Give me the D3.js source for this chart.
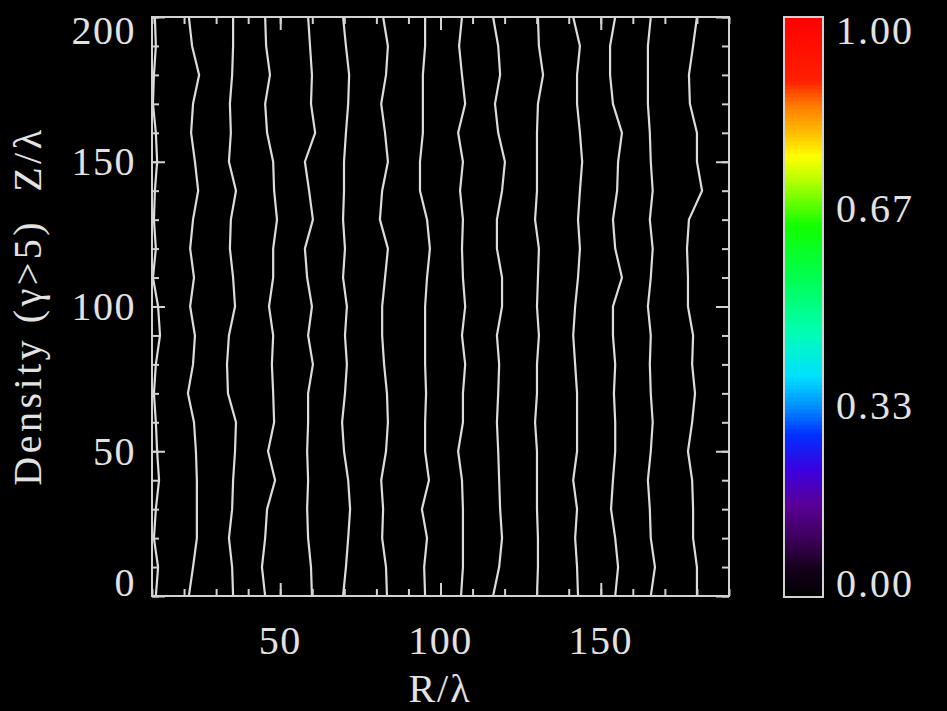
<!DOCTYPE html>
<html>
<head>
<meta charset="utf-8">
<script src="https://cdn.jsdelivr.net/npm/d3@7"></script>
<style>
  html, body { margin: 0; padding: 0; background: #000; }
  svg { display: block; }
  text { font-family: "Liberation Serif", "DejaVu Serif", serif; fill: #e2e2e2; }
</style>
</head>
<body>
<svg id="chart"></svg>
<script>
// Z levels (Z/lambda) at which each contour line was read, top to bottom
const zLevels = [200, 190, 180, 170, 160, 150, 140, 130, 120, 110, 100, 90, 80, 70, 60, 50, 40, 30, 20, 10, 0];

// R/lambda position of each contour line at those levels
const lineR = [
  [10.9, 11.2, 10.6, 10.3, 11.2, 11.6, 10.9, 10.6, 11.2, 10.3, 11.9, 12.5, 11.2, 10.6, 11.2, 11.6, 12.2, 11.2, 10.6, 11.9, 11.2],
  [21.5, 22.5, 24.7, 22.8, 22.2, 23.4, 24.4, 22.8, 21.9, 23.1, 21.9, 23.4, 22.8, 21.2, 23.1, 23.7, 24.0, 24.0, 24.0, 22.8, 21.5],
  [35.3, 35.3, 35.0, 34.3, 34.6, 34.0, 36.2, 34.6, 34.3, 35.3, 35.9, 34.0, 33.4, 33.7, 36.2, 35.9, 35.3, 35.0, 34.0, 35.0, 35.3],
  [45.3, 45.6, 46.8, 45.3, 45.9, 47.8, 48.1, 49.0, 47.8, 47.8, 46.5, 47.8, 47.4, 47.8, 48.1, 46.2, 48.4, 45.9, 45.3, 44.3, 45.3],
  [58.7, 59.3, 59.9, 59.6, 60.9, 57.7, 59.0, 60.2, 57.7, 58.4, 59.9, 58.7, 60.2, 58.7, 58.7, 58.4, 58.7, 58.4, 58.7, 59.6, 59.9],
  [69.6, 70.5, 71.5, 71.2, 70.5, 69.9, 69.9, 69.6, 70.2, 69.6, 70.8, 70.2, 70.8, 70.2, 69.3, 69.9, 71.2, 71.8, 71.2, 70.5, 69.6],
  [82.1, 83.6, 83.0, 81.5, 82.7, 83.6, 81.8, 81.1, 83.6, 82.7, 81.8, 81.8, 82.4, 83.3, 83.6, 83.0, 81.5, 82.1, 81.8, 83.0, 83.3],
  [95.2, 95.2, 94.5, 94.5, 94.5, 93.6, 93.6, 95.8, 96.7, 95.8, 95.2, 95.2, 95.2, 95.5, 95.2, 95.2, 96.4, 94.2, 95.8, 94.9, 95.2],
  [106.7, 105.8, 106.7, 107.7, 105.5, 107.0, 106.1, 107.0, 106.7, 107.0, 107.7, 106.7, 107.7, 107.0, 107.0, 105.5, 106.7, 107.0, 107.0, 107.0, 106.4],
  [116.4, 118.0, 118.6, 117.0, 118.0, 120.1, 119.2, 117.6, 117.6, 119.2, 119.2, 117.6, 118.3, 118.0, 117.6, 118.0, 118.3, 118.6, 119.2, 118.3, 116.4],
  [130.4, 130.7, 132.0, 130.4, 130.1, 130.1, 130.1, 129.5, 130.7, 130.4, 130.1, 130.7, 130.1, 130.1, 129.5, 130.1, 130.1, 130.1, 130.4, 130.4, 130.1],
  [141.4, 143.5, 142.6, 142.6, 143.5, 144.2, 143.5, 142.9, 143.5, 142.9, 142.0, 141.4, 142.0, 142.6, 142.6, 142.6, 141.4, 142.6, 142.0, 142.6, 142.9],
  [154.5, 152.9, 152.9, 153.8, 156.6, 155.4, 155.1, 153.8, 154.5, 156.6, 153.8, 153.8, 154.5, 154.1, 154.5, 154.5, 153.8, 153.2, 154.5, 155.4, 154.5],
  [165.6, 164.7, 164.7, 164.7, 165.3, 165.6, 166.2, 165.3, 166.2, 165.6, 164.7, 165.6, 165.3, 165.6, 166.2, 165.6, 164.7, 165.3, 165.6, 166.9, 165.6],
  [180.0, 178.8, 177.5, 177.8, 180.0, 180.0, 181.6, 177.5, 176.9, 177.2, 177.2, 178.8, 178.5, 179.4, 178.5, 177.2, 178.5, 178.8, 178.8, 180.0, 180.0]
];

const xTickLabels = [50, 100, 150];
const yTickLabels = [0, 50, 100, 150, 200];

// colour bar: rainbow table, value -> colour
const cbarStops = [0, 0.05, 0.1, 0.16, 0.22, 0.28, 0.33, 0.38, 0.46, 0.55, 0.64, 0.72, 0.76, 0.8, 0.85, 0.89, 1];
const cbarColors = ["#000000", "#14001c", "#3c0058", "#5a0098", "#3c00e0", "#0030ff", "#0090ff", "#00e0ff", "#00ffb0", "#00ff50", "#10ff00", "#b8ff00", "#ffff00", "#ffc000", "#ff7800", "#ff2000", "#ff0000"];
const cbarLabels = [1.00, 0.67, 0.33, 0.00];

const W = 947, H = 711;
const plot = { left: 152, right: 729, top: 17, bottom: 596 };
const cbar = { left: 784, right: 823, top: 17, bottom: 597 };
const fg = "#d2d2d2";
const digitH = 27;

const svg = d3.select("#chart").attr("width", W).attr("height", H);
svg.append("rect").attr("width", W).attr("height", H).attr("fill", "#000");

const x = d3.scaleLinear().domain([10, 190]).range([plot.left, plot.right]);
const y = d3.scaleLinear().domain([0, 200]).range([plot.bottom, plot.top]);

svg.append("clipPath").attr("id", "clip")
  .append("rect")
  .attr("x", plot.left).attr("y", plot.top)
  .attr("width", plot.right - plot.left).attr("height", plot.bottom - plot.top);

// contour lines
const line = d3.line()
  .x(d => x(d[0]))
  .y(d => y(d[1]));

svg.append("g")
  .attr("clip-path", "url(#clip)")
  .selectAll("path")
  .data(lineR.map(rs => rs.map((r, i) => [r, zLevels[i]])))
  .join("path")
  .attr("d", line)
  .attr("fill", "none")
  .attr("stroke", "#dcdcdc")
  .attr("stroke-width", 2.2)
  .attr("stroke-linejoin", "round");

// inward ticks on all four sides (minor every 10, major every 50)
const tickAxis = (axis, scale, step, size) =>
  axis(scale).tickValues(d3.range(Math.ceil(scale.domain()[0] / step) * step, scale.domain()[1] + 0.01, step))
    .tickSize(size).tickFormat("");

const drawTicks = (g) => {
  g.select(".domain").remove();
  g.selectAll(".tick line").attr("stroke", fg).attr("stroke-width", 2);
};

[[10, 7], [50, 13]].forEach(([step, size]) => {
  svg.append("g").attr("transform", `translate(0,${plot.bottom})`).call(tickAxis(d3.axisTop, x, step, size)).call(drawTicks);
  svg.append("g").attr("transform", `translate(0,${plot.top})`).call(tickAxis(d3.axisBottom, x, step, size)).call(drawTicks);
  svg.append("g").attr("transform", `translate(${plot.left},0)`).call(tickAxis(d3.axisRight, y, step, size)).call(drawTicks);
  svg.append("g").attr("transform", `translate(${plot.right},0)`).call(tickAxis(d3.axisLeft, y, step, size)).call(drawTicks);
});

// frame
svg.append("rect")
  .attr("x", plot.left).attr("y", plot.top)
  .attr("width", plot.right - plot.left).attr("height", plot.bottom - plot.top)
  .attr("fill", "none").attr("stroke", fg).attr("stroke-width", 2);

const clampY = (v, top, bottom) => Math.max(top + digitH / 2, Math.min(bottom - digitH / 2, v));

// tick labels
svg.append("g").selectAll("text")
  .data(xTickLabels)
  .join("text")
  .attr("x", d => x(d))
  .attr("y", 654)
  .attr("text-anchor", "middle")
  .attr("font-size", 40)
  .attr("letter-spacing", 1.5)
  .text(d => d);

svg.append("g").selectAll("text")
  .data(yTickLabels)
  .join("text")
  .attr("x", 136)
  .attr("y", d => clampY(y(d), plot.top, plot.bottom) + digitH / 2)
  .attr("text-anchor", "end")
  .attr("font-size", 40)
  .attr("letter-spacing", 1.5)
  .text(d => d);

// axis titles
svg.append("text")
  .attr("x", 440).attr("y", 702)
  .attr("text-anchor", "middle")
  .attr("font-size", 40)
  .attr("letter-spacing", 2)
  .text("R/λ");

svg.append("text")
  .attr("transform", "translate(41,306) rotate(-90)")
  .attr("text-anchor", "middle")
  .attr("font-size", 40)
  .attr("letter-spacing", 3.5)
  .style("white-space", "pre")
  .text("Density (γ>5)  Z/λ");

// colour bar
const cy = d3.scaleLinear().domain([0, 1]).range([cbar.bottom, cbar.top]);
const cscale = d3.scaleLinear().domain(cbarStops).range(cbarColors);
const nBands = 145;
svg.append("g").selectAll("rect")
  .data(d3.range(nBands))
  .join("rect")
  .attr("x", cbar.left)
  .attr("width", cbar.right - cbar.left)
  .attr("y", i => cy((i + 1) / nBands))
  .attr("height", i => cy(i / nBands) - cy((i + 1) / nBands) + 0.6)
  .attr("fill", i => cscale((i + 0.5) / nBands));

svg.append("rect")
  .attr("x", cbar.left).attr("y", cbar.top)
  .attr("width", cbar.right - cbar.left).attr("height", cbar.bottom - cbar.top)
  .attr("fill", "none").attr("stroke", fg).attr("stroke-width", 2);

svg.append("g").selectAll("text")
  .data(cbarLabels)
  .join("text")
  .attr("x", 836)
  .attr("y", d => clampY(cy(d), cbar.top, cbar.bottom) + digitH / 2)
  .attr("font-size", 40)
  .attr("letter-spacing", 2)
  .text(d => d.toFixed(2));
</script>
</body>
</html>
